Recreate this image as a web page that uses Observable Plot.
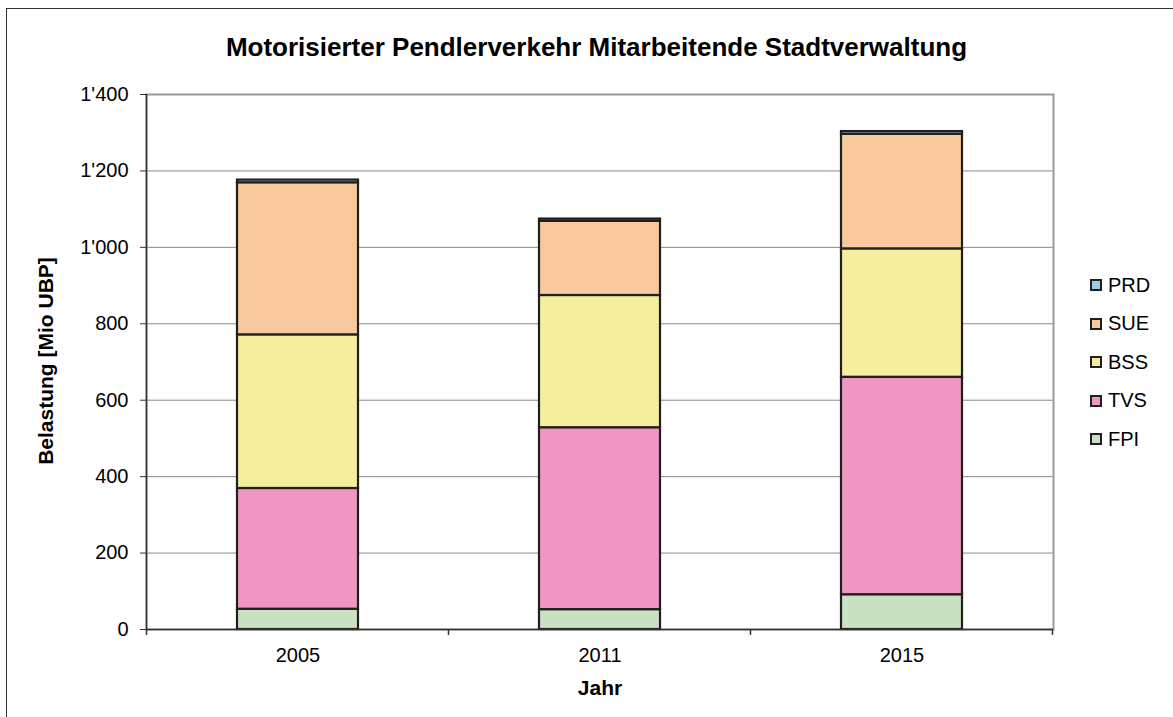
<!DOCTYPE html>
<html>
<head>
<meta charset="utf-8">
<script src="https://cdn.jsdelivr.net/npm/d3@7"></script>
<script src="https://cdn.jsdelivr.net/npm/@observablehq/plot@0.6"></script>
<style>
  html, body { margin: 0; padding: 0; background: #fff; overflow: hidden; }
  #wrap { position: relative; width: 1173px; height: 717px; font-family: "Liberation Sans", Arial, sans-serif; }
  #frame { position: absolute; left: 6px; top: 8px; width: 1300px; height: 900px; border-left: 1.5px solid #333; border-top: 1.5px solid #333; }
  #title { position: absolute; left: 0; width: 1193px; top: 32px; text-align: center; font-weight: bold; font-size: 26px; color: #000; }
  #ytitle { position: absolute; left: 46px; top: 361px; transform: translate(-50%, -50%) rotate(-90deg); font-weight: bold; font-size: 21px; white-space: nowrap; }
  #xtitle { position: absolute; left: 600px; top: 676px; transform: translateX(-50%); font-weight: bold; font-size: 21px; }
  #chart { position: absolute; left: 0; top: 0; }
  #legend { position: absolute; left: 1090px; top: 266px; font-size: 20px; }
  .item { display: flex; align-items: center; height: 38.5px; }
  .sw { width: 8px; height: 8px; border: 2px solid #1f1f1f; margin-right: 6px; }
</style>
</head>
<body>
<div id="wrap">
  <div id="frame"></div>
  <div id="chart"></div>
  <div id="title">Motorisierter Pendlerverkehr Mitarbeitende Stadtverwaltung</div>
  <div id="ytitle">Belastung [Mio UBP]</div>
  <div id="xtitle">Jahr</div>
  <div id="legend"></div>
</div>
<script>
const years = ["2005", "2011", "2015"];
const seriesNames = ["FPI", "TVS", "BSS", "SUE", "PRD"];
const FPI = [53, 52, 91];
const TVS = [316, 476, 569];
const BSS = [402, 346, 336];
const SUE = [398, 194, 300];
const PRD = [7, 6, 7];
const seriesColors = ["#cae2c3", "#ef97c2", "#f5ee9e", "#f8c99c", "#9dc9ea"];
const yTicks = [0, 200, 400, 600, 800, 1000, 1200, 1400];
const legendOrder = ["PRD", "SUE", "BSS", "TVS", "FPI"];

const seriesValues = { FPI, TVS, BSS, SUE, PRD };
const rows = [];
seriesNames.forEach(s => years.forEach((y, i) => rows.push({ year: y, series: s, value: seriesValues[s][i] })));

const fmt = d => d3.format(",")(d).replace(/,/g, "'");

const W = 1173, H = 717;
const mL = 146, mR = 120, mT = 94, mB = 88;

const chart = Plot.plot({
  width: W, height: H,
  marginLeft: mL, marginRight: mR, marginTop: mT, marginBottom: mB,
  style: { fontFamily: "'Liberation Sans', Arial, sans-serif", fontSize: "20px", color: "#000", background: "transparent" },
  x: { domain: years, paddingInner: 0.6, paddingOuter: 0.3, label: null },
  y: { domain: [0, 1400], label: null },
  color: { domain: seriesNames, range: seriesColors },
  marks: [
    Plot.ruleY(yTicks.filter(d => d > 0 && d < 1400), { stroke: "#8a8a8a", strokeWidth: 1 }),
    Plot.frame({ stroke: "#9a9a9a", strokeWidth: 2 }),
    Plot.barY(rows, { x: "year", y: "value", fill: "series", stroke: "#1f1f1f", strokeWidth: 2.2 }),
    Plot.ruleY([0], { stroke: "#333", strokeWidth: 1.5 }),
    Plot.axisY({ ticks: yTicks, tickFormat: fmt, tickSize: 6, tickPadding: 12, stroke: "#333", label: null }),
    Plot.axisX({ tickSize: 0, tickPadding: 18, label: null })
  ]
});
document.getElementById("chart").appendChild(chart);

// left axis line and category-boundary ticks
const xs = chart.scale("x"), ysc = chart.scale("y");
const bw = xs.bandwidth, step = xs.step;
const y0 = ysc.apply(0), yTop = ysc.apply(1400);
const svg = d3.select(chart);
const g = svg.append("g").attr("stroke", "#333").attr("stroke-width", 1.5);
const leftX = xs.apply(years[0]) + bw / 2 - step / 2;
g.append("line").attr("x1", leftX).attr("x2", leftX).attr("y1", yTop).attr("y2", y0);
years.forEach((yr, i) => {
  const c = xs.apply(yr) + bw / 2;
  const bx = [c - step / 2];
  if (i === years.length - 1) bx.push(c + step / 2);
  bx.forEach(b => g.append("line").attr("x1", b).attr("x2", b).attr("y1", y0).attr("y2", y0 + 6));
});

// legend
const leg = document.getElementById("legend");
legendOrder.forEach(s => {
  const it = document.createElement("div");
  it.className = "item";
  const sw = document.createElement("div");
  sw.className = "sw";
  sw.style.background = seriesColors[seriesNames.indexOf(s)];
  const t = document.createElement("span");
  t.textContent = s;
  it.appendChild(sw); it.appendChild(t);
  leg.appendChild(it);
});
</script>
</body>
</html>
